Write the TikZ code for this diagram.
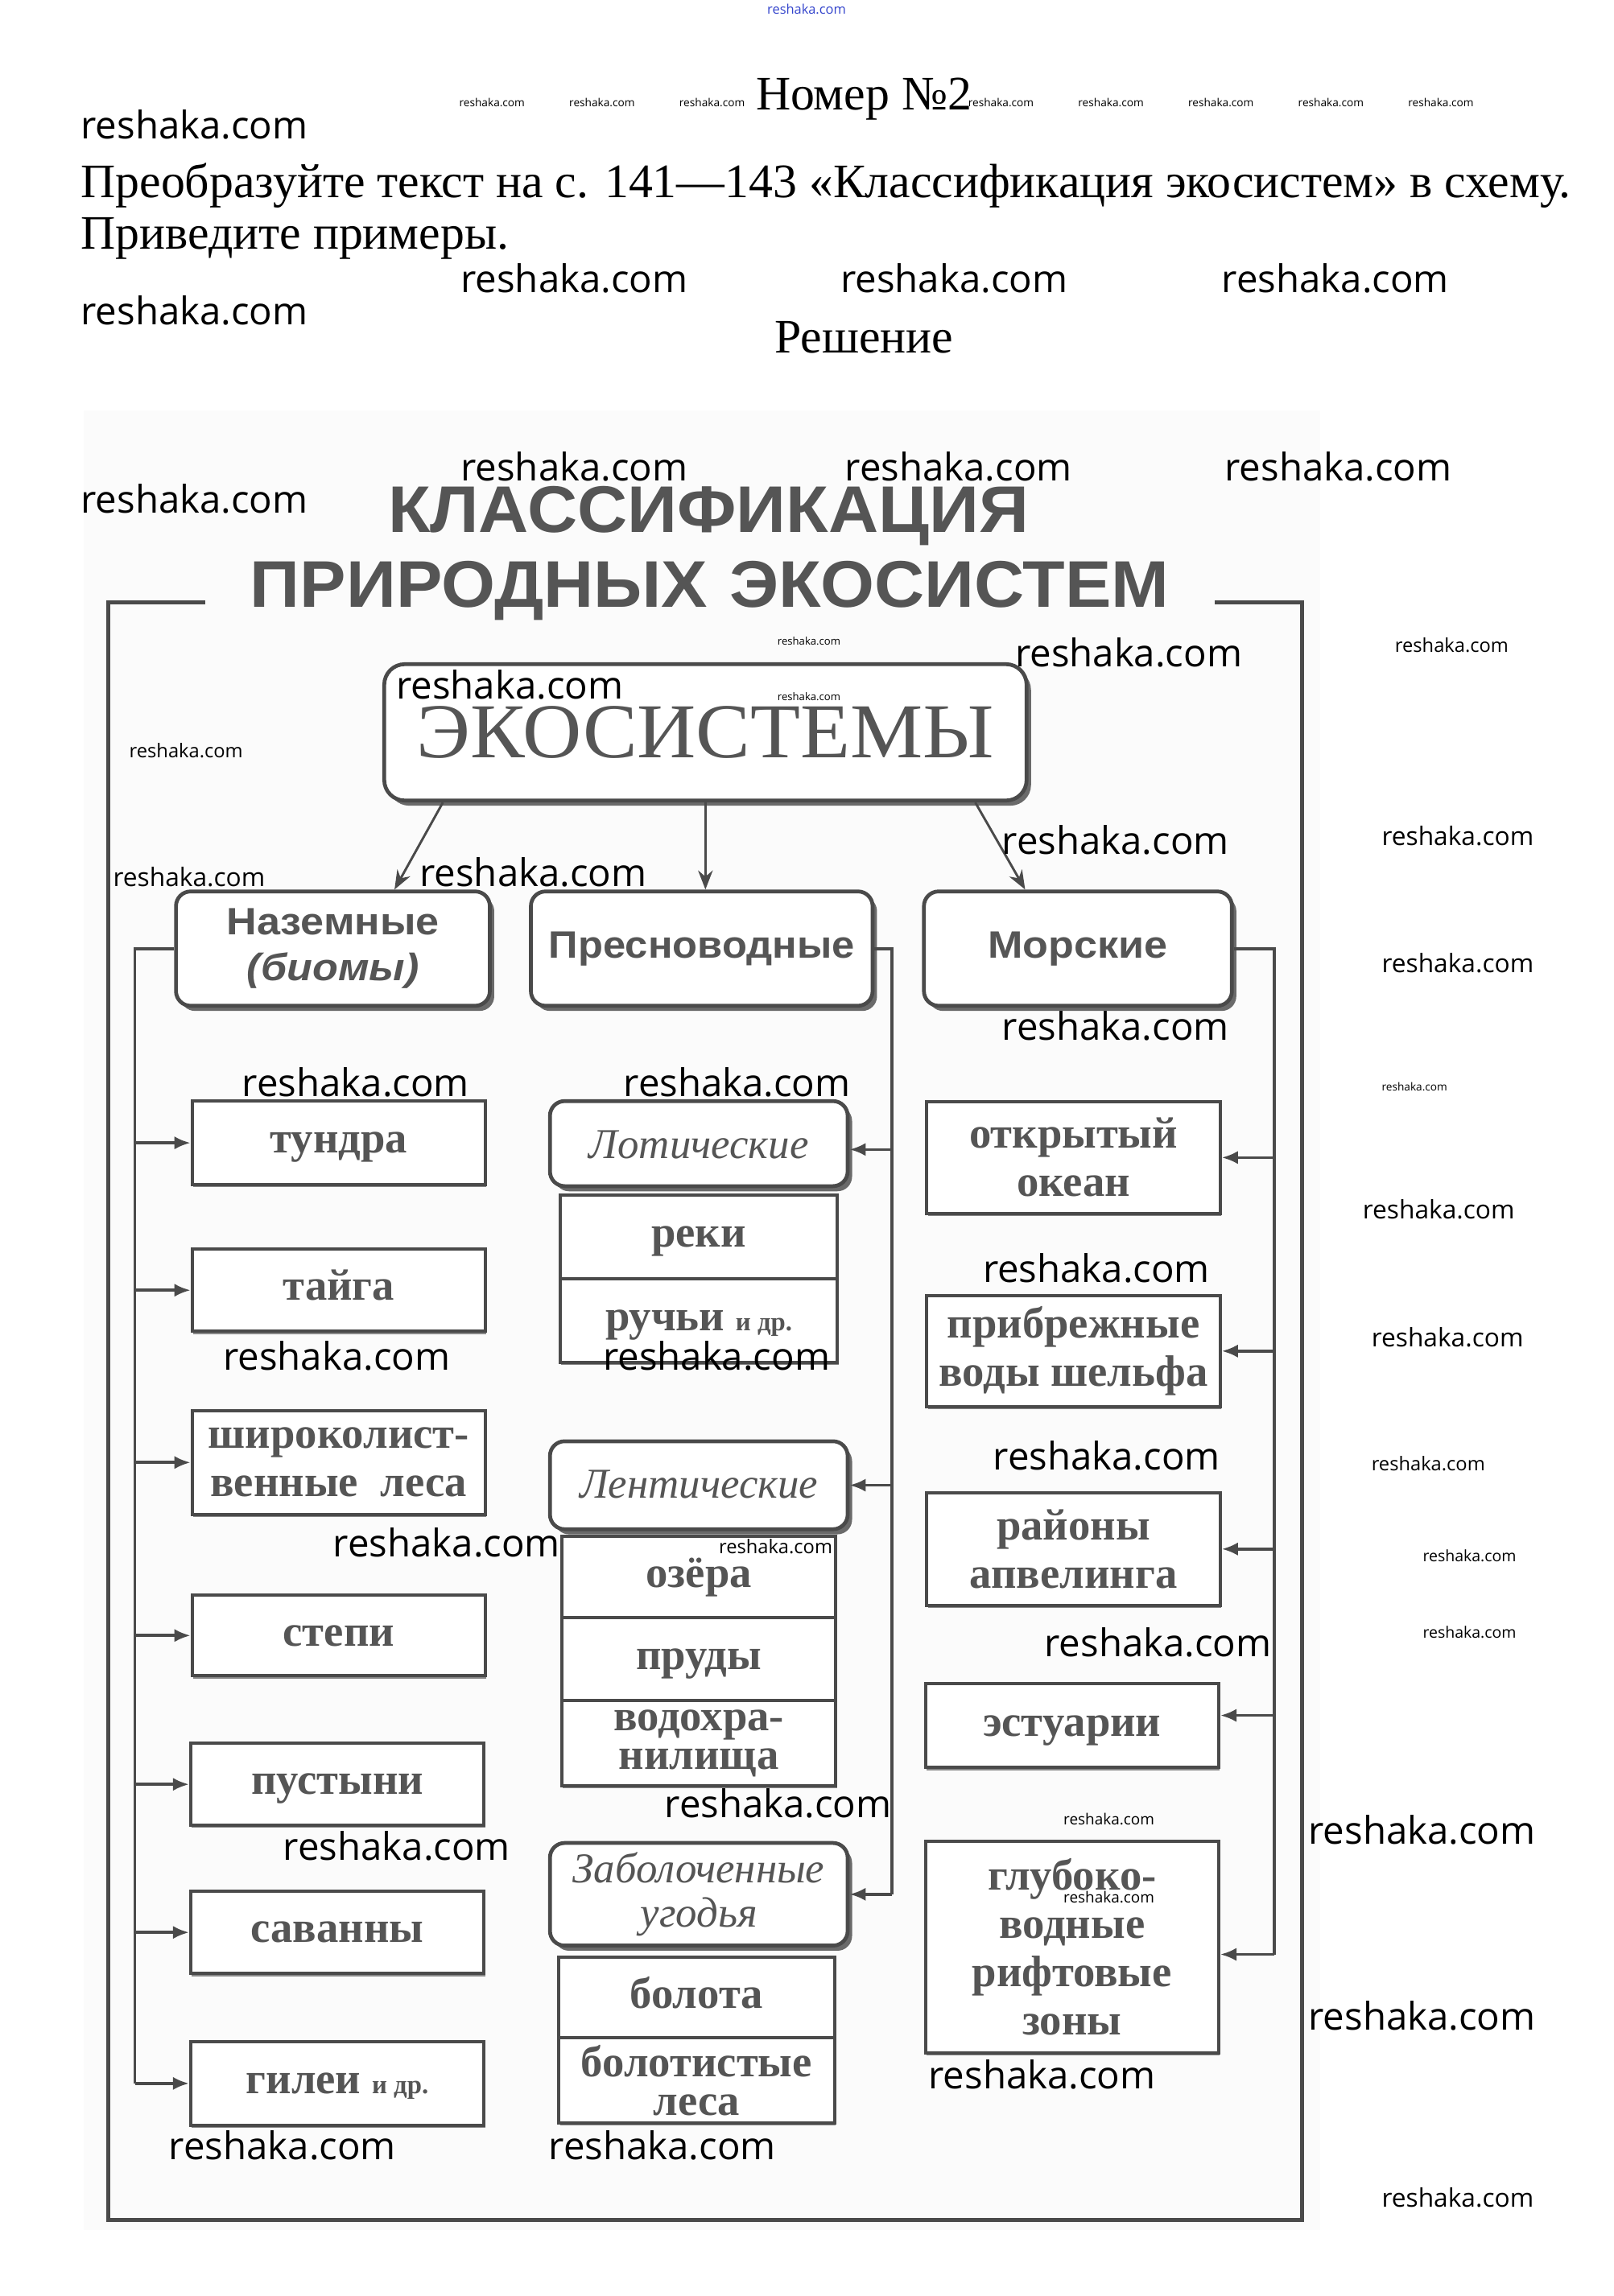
\documentclass[tikz,border=0pt]{standalone}
\usepackage{fontspec}
\usepackage{graphicx}
\setmainfont{Liberation Serif}
\newfontfamily\wmfont{Open Sans}
\newfontfamily\lsans{Liberation Sans}
\usetikzlibrary{arrows.meta,shadows}
\definecolor{ln}{HTML}{4A4A4A}
\definecolor{tx}{HTML}{555555}
\definecolor{sh}{HTML}{6A6A6A}
\definecolor{bgc}{HTML}{FBFBFB}
\definecolor{wmblue}{HTML}{3344CC}
\newcommand\wmk[4]{\node[wm,font=\wmfont\fontsize{#1}{#1}\selectfont] (#4) at (#2,#3) {reshaka.com};}
\newcommand\sxw[1]{\scalebox{1.1}[1]{#1}}
\begin{document}
\begin{tikzpicture}[x=1pt,y=-1pt,
  wm/.style={anchor=west,inner sep=0pt,text=black},
  rb/.style={draw=ln,line width=2.6pt,fill=white,rounded corners=10pt,inner sep=0pt,
     drop shadow={shadow xshift=3pt,shadow yshift=-3.5pt,fill=sh,opacity=1}},
  sb/.style={draw=ln,line width=2.2pt,fill=white,inner sep=0pt,
     drop shadow={shadow xshift=0.8pt,shadow yshift=-1.8pt,fill=sh,opacity=0.8}},
  wh/.style 2 args={minimum width=#1pt,minimum height=#2pt},
  ser/.style={font=\bfseries\fontsize{30}{33}\selectfont,text=tx,align=center},
  one/.style={text height=14pt,text depth=0pt},
  ita/.style={font=\itshape\fontsize{29}{31}\selectfont,text=tx,align=center},
  sans/.style={font=\lsans\bfseries\fontsize{26}{31}\selectfont,text=tx,align=center},
  conn/.style={draw=ln,line width=2pt},
  arr/.style={conn,-{Latex[length=11pt,width=9pt]}},
  arrt/.style={draw=ln,line width=1.6pt,-{Stealth[length=13pt,width=10pt]}}]
\useasboundingbox (0,0) rectangle (1100,1566);
\fill[white] (0,0) rectangle (1100,1566);

% header
\node[anchor=base,inner sep=0pt,font=\fontsize{32.8}{33}\selectfont] (hnum) at (589,75) {Номер №2};
\node[anchor=base west,inner sep=0pt,font=\fontsize{32.8}{33}\selectfont] (task1) at (55,134.5) {Преобразуйте текст на с. 141—143 «Классификация экосистем» в схему.};
\node[anchor=base west,inner sep=0pt,font=\fontsize{32.8}{33}\selectfont] (task2) at (55,170) {Приведите примеры.};
\node[anchor=base,inner sep=0pt,font=\fontsize{32.8}{33}\selectfont] (resh) at (589,240.5) {Решение};

% diagram background
\fill[bgc] (57,280) rectangle (900,1521);

% frame and title
\draw[draw=ln,line width=2.8pt] (140,411) -- (74,411) -- (74,1514) -- (888,1514) -- (888,411) -- (828,411);
\node[anchor=base,inner sep=0pt,font=\lsans\bfseries\fontsize{45}{45}\selectfont,text=tx] (t1) at (483,363) {\scalebox{1.05}[1]{КЛАССИФИКАЦИЯ}};
\node[anchor=base,inner sep=0pt,font=\lsans\bfseries\fontsize{45}{45}\selectfont,text=tx] (t2) at (484,414) {\scalebox{1.05}[1]{ПРИРОДНЫХ\hspace{14pt}ЭКОСИСТЕМ}};

% top level
\node[rb,wh={438}{93},rounded corners=14pt,font=\fontsize{53}{53}\selectfont,text=tx] (eco) at (481,499.5) {\scalebox{1.05}[1]{ЭКОСИСТЕМЫ}};
\node[rb,wh={214}{78},sans] (naz) at (227,647) {\sxw{Наземные}\\\sxw{\itshape(биомы)}};
\node[rb,wh={233}{78},sans] (pres) at (478.5,647) {\scalebox{1.07}[1]{Пресноводные}};
\node[rb,wh={210}{78},sans] (mor) at (735,647) {\sxw{Морские}};

% left column
\node[sb,wh={200}{57},ser,one] (tundra) at (231,779.5) {тундра};
\node[sb,wh={200}{56},ser,one] (taiga) at (231,880) {тайга};
\node[sb,wh={200}{71},ser] (shir) at (231,997.5) {широколист-\\венные~~леса};
\node[sb,wh={200}{55},ser,one] (stepi) at (231,1115.5) {степи};
\node[sb,wh={200}{56},ser,one] (pust) at (230,1217) {пустыни};
\node[sb,wh={200}{56},ser,one] (savan) at (230,1318) {саванны};
\node[sb,wh={200}{57},ser,one] (gilei) at (230,1421) {гилеи {\fontsize{18}{18}\selectfont и др.}};

% middle column
\node[rb,wh={203}{58},ita,one] (lotic) at (476.5,780) {\raisebox{-3pt}{Лотические}};
\node[sb,wh={189}{57},ser,one] (reki) at (476.5,843.5) {реки};
\node[sb,wh={189}{57},ser,one] (ruchi) at (476.5,900.5) {ручьи {\fontsize{18}{18}\selectfont и др.}};
\node[rb,wh={203}{60},ita,one] (lentic) at (476.5,1013) {\raisebox{-2pt}{Лентические}};
\node[sb,wh={187}{55},ser,one] (ozera) at (476.5,1075.5) {озёра};
\node[sb,wh={187}{57},ser,one] (prudy) at (476.5,1131.5) {пруды};
\node[sb,wh={187}{58},ser,font=\bfseries\fontsize{30}{26}\selectfont] (vodokh) at (476.5,1189) {водохра-\\нилища};
\node[rb,wh={203}{70},ita,font=\itshape\fontsize{29}{30}\selectfont] (zabol) at (476.5,1292) {Заболоченные\\угодья};
\node[sb,wh={188}{55},ser,one] (bolota) at (475,1362.5) {болота};
\node[sb,wh={188}{58},ser,font=\bfseries\fontsize{30}{26}\selectfont] (bolles) at (475,1419) {болотистые\\леса};

% right column
\node[sb,wh={200}{76},ser] (okean) at (732,789.5) {открытый\\океан};
\node[sb,wh={200}{76},ser] (pribr) at (732,921.5) {прибрежные\\воды шельфа};
\node[sb,wh={200}{77},ser] (apvel) at (732,1056.5) {районы\\апвелинга};
\node[sb,wh={200}{57},ser,one] (estu) at (731,1177) {эстуарии};
\node[sb,wh={200}{144},ser] (glub) at (731,1328) {глубоко-\\водные\\рифтовые\\зоны};

% connectors
\coordinate (lt) at (92,647);
\coordinate (mt) at (608,647);
\coordinate (rt) at (869,647);
\draw[arrt] ([xshift=-179pt]eco.south) -- ([xshift=42pt]naz.north);
\draw[arrt] (eco.south) -- (eco.south |- pres.north);
\draw[arrt] ([xshift=184pt]eco.south) -- ([xshift=-36pt]mor.north);

\draw[conn] (naz.west) -- (lt) -- (gilei.west -| lt);
\foreach \n in {tundra,taiga,shir,stepi,pust,savan,gilei}
  \draw[arr] (\n.west -| lt) -- (\n.west);

\draw[conn] (pres.east) -- (mt) -- (zabol.east -| mt);
\draw[arr] ([yshift=-4pt]lotic.east -| mt) -- ([yshift=-4pt]lotic.east);
\draw[arr] (lentic.east -| mt) -- (lentic.east);
\draw[arr] (zabol.east -| mt) -- (zabol.east);

\coordinate (rb1) at ([yshift=-5pt]glub.east -| rt);
\draw[conn] (mor.east) -- (rt) -- (rb1);
\foreach \n in {okean,pribr,apvel}
  \draw[arr] (\n.east -| rt) -- (\n.east);
\draw[arr] ([yshift=7pt]estu.east -| rt) -- ([yshift=7pt]estu.east);
\draw[arr] (rb1) -- ([yshift=-5pt]glub.east);

% watermarks
\node[wm,font=\wmfont\fontsize{9}{9}\selectfont,text=wmblue] (wtop) at (523,6) {reshaka.com};
\wmk{7.5}{313}{70}{s1}\wmk{7.5}{388}{70}{s2}\wmk{7.5}{463}{70}{s3}\wmk{7.5}{660}{70}{s4}
\wmk{7.5}{735}{70}{s5}\wmk{7.5}{810}{70}{s6}\wmk{7.5}{885}{70}{s7}\wmk{7.5}{960}{70}{s8}
\wmk{7.5}{942}{741}{s9}
\wmk{7.2}{530}{437}{s10}\wmk{7.2}{530}{475}{s11}
\wmk{10.4}{725}{1241}{s12}\wmk{10.4}{725}{1294}{s13}
\wmk{10.7}{970}{1061}{s14}\wmk{10.7}{970}{1113}{s15}
\wmk{13}{951}{440}{m1}\wmk{13}{88}{512}{m2}\wmk{13}{935}{998}{m3}\wmk{13}{490}{1055}{m4}
\wmk{17.4}{77}{598}{n1}\wmk{17.4}{942}{570}{n2}\wmk{17.4}{942}{657}{n3}
\wmk{17.4}{929}{825}{n4}\wmk{17.4}{935}{912}{n5}\wmk{17.4}{942}{1499}{n6}
\wmk{26}{55}{85}{b1}\wmk{26}{55}{212}{b2}\wmk{26}{314}{190}{b3}\wmk{26}{573}{190}{b4}
\wmk{26}{833}{190}{b5}\wmk{26}{55}{340}{b6}\wmk{26}{314}{318}{b7}\wmk{26}{576}{318}{b8}
\wmk{26}{835}{318}{b9}\wmk{26}{692}{445}{b10}\wmk{26}{270}{467}{b11}\wmk{26}{683}{573}{b12}
\wmk{26}{286}{595}{b13}\wmk{26}{683}{700}{b14}\wmk{26}{165}{738}{b15}\wmk{26}{425}{738}{b16}
\wmk{26}{670}{865}{b17}\wmk{26}{152}{925}{b18}\wmk{26}{411}{925}{b19}\wmk{26}{677}{993}{b20}
\wmk{26}{227}{1052}{b21}\wmk{26}{712}{1120}{b22}\wmk{26}{453}{1230}{b23}\wmk{26}{892}{1248}{b24}
\wmk{26}{193}{1259}{b25}\wmk{26}{892}{1375}{b26}\wmk{26}{633}{1415}{b27}\wmk{26}{115}{1463}{b28}
\wmk{26}{374}{1463}{b29}
\end{tikzpicture}
\end{document}
